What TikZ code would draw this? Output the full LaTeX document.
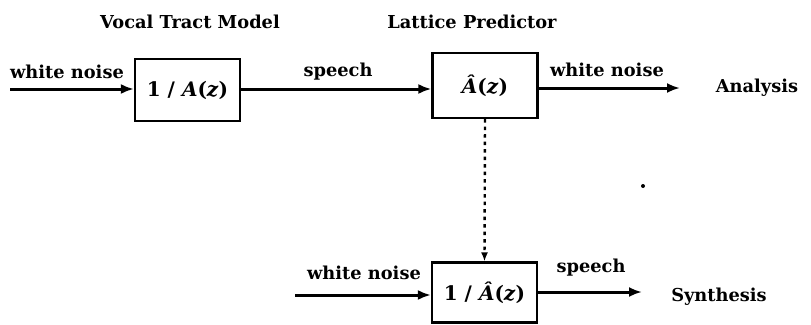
\documentclass[tikz,border=0pt]{standalone}
\usepackage{fontspec}
\setmainfont{DejaVu Serif}
\usetikzlibrary{arrows.meta}
\tikzset{
  blk/.style={draw, line width=2.2pt, minimum width=105pt, minimum height=62pt, inner sep=0pt, font=\fontsize{20}{24}\selectfont\bfseries},
  lbl/.style={inner sep=0pt, font=\fontsize{17.8}{20}\selectfont\bfseries},
  sig/.style={line width=3pt, -{Latex[length=13pt,width=10pt]}},
  ctl/.style={line width=2.4pt, dash pattern=on 3.5pt off 4pt, -{Latex[length=9pt,width=7pt]}}
}
\begin{document}
\begin{tikzpicture}[x=1pt,y=-1pt]
\useasboundingbox (0,0) rectangle (811,324);
% blocks
\node[blk] (b1) at (187.5,90) {1 / \textit{A}(\textit{z})};
\node[blk, minimum height=65pt] (b2) at (485,85.5) {\textit{Â}(\textit{z})};
\node[blk, minimum height=60pt] (b3) at (484.5,292.5) {1 / \textit{Â}(\textit{z})};
% coordinates
\coordinate (in1) at (10,89);
\coordinate (out1) at (680,88);
\coordinate (in3) at (295,295);
\coordinate (out3) at (642,292);
% connectors
\draw[sig] (in1) -- (b1.west |- in1);
\draw[sig] (b1.east |- in1) -- (b2.west |- in1);
\draw[sig] (b2.east |- out1) -- (out1);
\draw[ctl] (b2.south) -- (b3.north);
\draw[sig] (in3) -- (b3.west |- in3);
\draw[sig] (b3.east |- out3) -- (out3);
% labels
\node[lbl] (t1) at (190,22) {Vocal Tract Model};
\node[lbl] (t2) at (472,22) {Lattice Predictor};
\node[lbl] (l1) at (67,72) {white noise};
\node[lbl] (l2) at (338,72) {speech};
\node[lbl] (l3) at (607,70) {white noise};
\node[lbl] (l4) at (757,88) {Analysis};
\node[lbl] (l5) at (364,273) {white noise};
\node[lbl] (l6) at (591,268) {speech};
\node[lbl] (l7) at (719,297) {Synthesis};
% stray dot
\fill (643,186) circle (2pt);
\end{tikzpicture}
\end{document}
